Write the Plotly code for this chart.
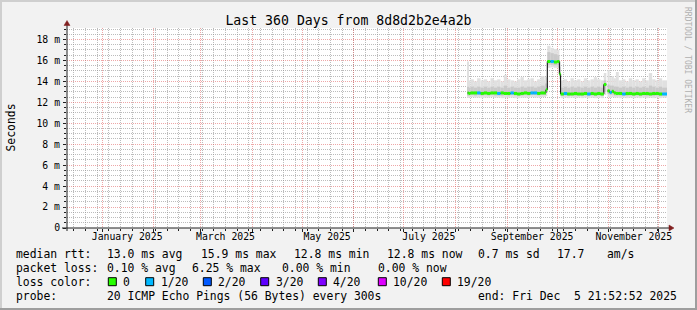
import plotly.graph_objects as go
import pandas as pd

# ---------------- data ----------------
START = "2024-12-10 21:52:52"
END = "2025-12-05 21:52:52"

dates = [
    "2025-08-08 06:00", "2025-08-09", "2025-08-10", "2025-08-12", "2025-08-14", "2025-08-16",
    "2025-08-18", "2025-08-20", "2025-08-22", "2025-08-24", "2025-08-26", "2025-08-28",
    "2025-08-30", "2025-09-01", "2025-09-03", "2025-09-05", "2025-09-07", "2025-09-09",
    "2025-09-11", "2025-09-13", "2025-09-15", "2025-09-17", "2025-09-19", "2025-09-21",
    "2025-09-23 12:00", "2025-09-24 06:00", "2025-09-25 02:00", "2025-09-27", "2025-09-29", "2025-10-01",
    "2025-10-02 08:00", "2025-10-03 02:00", "2025-10-05", "2025-10-07", "2025-10-09", "2025-10-11",
    "2025-10-13", "2025-10-15", "2025-10-17", "2025-10-19", "2025-10-21", "2025-10-23",
    "2025-10-25", "2025-10-27", "2025-10-29", "2025-10-30 12:00", "2025-10-31 06:00", "2025-11-01 12:00",
    "2025-11-02 18:00", "2025-11-04", "2025-11-05 06:00", "2025-11-07", "2025-11-09", "2025-11-11",
    "2025-11-13", "2025-11-15", "2025-11-17", "2025-11-19", "2025-11-21", "2025-11-23",
    "2025-11-25", "2025-11-27", "2025-11-29", "2025-12-01", "2025-12-03", "2025-12-05 21:50",
]

# median rtt (ms)
median = [
    12.9, 12.85, 12.9, 12.9, 12.9, 12.85,
    12.9, 12.85, 12.9, 12.9, 12.85, 12.9,
    12.85, 12.85, 12.9, 12.85, 12.8, 12.85,
    12.9, 12.85, 12.9, 12.9, 12.85, 12.9,
    12.9, 13.2, 15.9, 15.9, 15.85, 15.9,
    14.7, 12.8, 12.85, 12.8, 12.8, 12.85,
    12.8, 12.8, 12.85, 12.8, 12.85, 12.8,
    12.85, 12.8, 13.7, None, 13.1, 12.95,
    13.05, 12.9, 12.85, 12.85, 12.8, 12.85,
    12.85, 12.8, 12.85, 12.8, 12.85, 12.85,
    12.8, 12.85, 12.85, 12.8, 12.8, 12.8,
]

# loss bucket index (0 -> 0 lost, 1 -> 1/20 lost)
loss = [
    0, 0, 0, 0, 1, 0,
    0, 0, 0, 0, 1, 0,
    0, 0, 1, 0, 0, 0,
    0, 0, 1, 1, 0, 0,
    0, 0, 0, 1, 0, 0,
    0, 0, 1, 0, 0, 0,
    0, 0, 0, 1, 0, 0,
    0, 0, 0, 0, 0, 1,
    0, 0, 0, 0, 1, 0,
    0, 0, 0, 0, 0, 0,
    0, 0, 0, 0, 1, 0,
]

# smoke: min, lower quartile, upper quartile, max of the 20 pings (ms)
smoke_min = [
    12.45, 12.45, 12.5, 12.45, 12.45, 12.4,
    12.45, 12.45, 12.5, 12.45, 12.45, 12.4,
    12.45, 12.45, 12.45, 12.4, 12.4, 12.45,
    12.45, 12.45, 12.5, 12.45, 12.45, 12.5,
    12.5, 12.6, 15.3, 15.35, 15.3, 15.3,
    14.2, 12.4, 12.45, 12.4, 12.45, 12.4,
    12.45, 12.4, 12.45, 12.4, 12.45, 12.4,
    12.45, 12.4, 12.7, None, 12.5, 12.45,
    12.5, 12.45, 12.45, 12.4, 12.45, 12.4,
    12.45, 12.4, 12.45, 12.4, 12.45, 12.4,
    12.45, 12.4, 12.45, 12.4, 12.45, 12.45,
]
smoke_q1 = [
    12.65, 12.65, 12.7, 12.65, 12.7, 12.65,
    12.7, 12.65, 12.7, 12.65, 12.65, 12.65,
    12.7, 12.65, 12.7, 12.65, 12.6, 12.65,
    12.7, 12.65, 12.7, 12.7, 12.65, 12.7,
    12.7, 12.9, 15.6, 15.6, 15.55, 15.6,
    14.5, 12.6, 12.65, 12.6, 12.65, 12.6,
    12.65, 12.6, 12.65, 12.6, 12.65, 12.6,
    12.65, 12.6, 13.0, None, 12.8, 12.7,
    12.75, 12.65, 12.65, 12.65, 12.65, 12.6,
    12.65, 12.6, 12.65, 12.6, 12.65, 12.6,
    12.65, 12.6, 12.65, 12.6, 12.65, 12.65,
]
smoke_q3 = [
    13.5, 13.4, 13.5, 13.4, 13.5, 13.4,
    13.5, 13.4, 13.5, 13.4, 13.5, 13.4,
    13.6, 13.4, 13.5, 13.4, 13.4, 13.5,
    13.4, 13.5, 13.5, 13.4, 13.5, 13.6,
    13.5, 13.8, 16.8, 16.7, 16.6, 16.5,
    15.4, 13.4, 13.5, 13.4, 13.5, 13.4,
    13.5, 13.4, 13.5, 13.4, 13.5, 13.4,
    13.5, 13.4, 14.1, None, 13.7, 13.6,
    13.6, 13.5, 13.5, 13.4, 13.5, 13.4,
    13.5, 13.4, 13.5, 13.4, 13.5, 13.4,
    13.6, 13.5, 13.4, 13.5, 13.4, 13.4,
]
smoke_max = [
    15.9, 14.1, 14.2, 14.0, 14.3, 14.1,
    14.2, 14.0, 14.3, 14.1, 14.2, 14.0,
    14.6, 14.2, 14.1, 14.0, 14.2, 14.4,
    14.1, 14.2, 14.3, 14.0, 14.2, 14.5,
    14.1, 14.4, 17.4, 17.2, 17.1, 17.0,
    15.9, 14.1, 14.2, 14.0, 14.3, 14.1,
    14.2, 14.0, 14.3, 14.1, 14.2, 14.4,
    14.2, 14.1, 14.8, None, 15.1, 14.4,
    14.5, 14.3, 14.9, 14.1, 14.2, 14.0,
    14.3, 14.1, 14.2, 14.0, 14.3, 14.1,
    14.8, 14.2, 14.1, 14.3, 14.1, 14.1,
]

y_tick_vals = [0, 2, 4, 6, 8, 10, 12, 14, 16, 18]
y_tick_text = ["0", "2 m", "4 m", "6 m", "8 m", "10 m", "12 m", "14 m", "16 m", "18 m"]
y_minor_step = 0.5
month_starts = ["2025-01-01", "2025-02-01", "2025-03-01", "2025-04-01", "2025-05-01", "2025-06-01",
                "2025-07-01", "2025-08-01", "2025-09-01", "2025-10-01", "2025-11-01", "2025-12-01"]
label_dates = ["2025-01-16", "2025-03-16", "2025-05-16", "2025-07-16", "2025-09-16", "2025-11-16"]
label_text = ["January 2025", "March 2025", "May 2025", "July 2025", "September 2025", "November 2025"]

loss_labels = ["0", "1/20", "2/20", "3/20", "4/20", "10/20", "19/20"]
loss_colors = ["#26ff00", "#00b8ff", "#0059ff", "#5e00ff", "#7e00ff", "#dd00ff", "#ff0000"]

title_text = "Last 360 Days from 8d8d2b2e4a2b"
stats_rtt = ["median rtt:", "13.0 ms avg", "15.9 ms max", "12.8 ms min", "12.8 ms now", "0.7 ms sd", "17.7", "am/s"]
stats_loss = ["packet loss:", "0.10 % avg", "6.25 % max", "0.00 % min", "0.00 % now"]
probe_line = ["probe:", "20 ICMP Echo Pings (56 Bytes) every 300s", "end: Fri Dec  5 21:52:52 2025"]

# ---------------- layout helpers ----------------
FW, FH = 697, 310
L, T, W, H = 67, 28, 600, 200
YMAX = 19.1
MONO = "DejaVu Sans Mono"


def pxx(x):
    return (x - L) / W


def pyy(y):
    return (T + H - y) / H


def nb(s):
    return s.replace(" ", "\u00a0")


t = pd.to_datetime(dates, format="mixed")
dur_ms = [(t[i + 1] - t[i]).total_seconds() * 1000 for i in range(len(t) - 1)]

y_minor_vals = [k * y_minor_step for k in range(int(YMAX / y_minor_step) + 1)
                if (k * y_minor_step) not in y_tick_vals]

fig = go.Figure()


def band(lo, hi, color):
    base, hgt = [], []
    for i in range(len(dates) - 1):
        if lo[i] is None or hi[i] is None:
            base.append(None)
            hgt.append(None)
        else:
            base.append(lo[i])
            hgt.append(hi[i] - lo[i])
    fig.add_trace(go.Bar(x=dates[:-1], y=hgt, base=base, width=dur_ms, offset=0,
                         marker=dict(color=color, line=dict(width=0)),
                         hoverinfo="skip", showlegend=False))


band(smoke_min, smoke_max, "#e0e0e0")
band(smoke_q1, smoke_q3, "#c9c9c9")

# black median step line
bx, by = [], []
for i in range(len(dates) - 1):
    if median[i] is None:
        bx.append(None)
        by.append(None)
        continue
    bx += [dates[i], dates[i + 1]]
    by += [median[i], median[i]]
fig.add_trace(go.Scatter(x=bx, y=by, mode="lines", line=dict(color="#000000", width=1),
                         connectgaps=False, hoverinfo="skip", showlegend=False))

# loss-coloured median segments
for k, col in enumerate(loss_colors):
    sx, sy = [], []
    for i in range(len(dates) - 1):
        if median[i] is None or loss[i] != k:
            continue
        sx += [dates[i], dates[i + 1], None]
        sy += [median[i], median[i], None]
    if sx:
        fig.add_trace(go.Scatter(x=sx, y=sy, mode="lines", line=dict(color=col, width=3),
                                 connectgaps=False, hoverinfo="skip", showlegend=False))

# dummy trace for label axis
fig.add_trace(go.Scatter(x=[START, END], y=[None, None], xaxis="x2", mode="lines",
                         hoverinfo="skip", showlegend=False))

MGRID = "rgba(222,79,79,0.5)"
GRID = "rgba(143,143,143,0.6)"
AXC = "#1f1f1f"

fig.update_layout(
    width=FW, height=FH,
    margin=dict(l=L, r=FW - L - W, t=T, b=FH - T - H, pad=0),
    paper_bgcolor="#f2f2f2", plot_bgcolor="#ffffff",
    barmode="overlay", showlegend=False,
    font=dict(family=MONO, color="#000000"),
    title=dict(text=title_text, x=0.5, xanchor="center", y=1 - 20 / FH, yanchor="middle",
               font=dict(family=MONO, size=13.2, color="#000000")),
    xaxis=dict(type="date", range=[START, END], tickmode="array", tickvals=month_starts,
               ticktext=[""] * len(month_starts), showgrid=True, gridcolor=MGRID,
               griddash="1px,1px", gridwidth=1, ticks="outside", ticklen=3, tickcolor=AXC,
               zeroline=False, showline=False,
               minor=dict(dtick=7 * 86400000, tick0="2024-12-15", showgrid=True,
                          gridcolor=GRID, griddash="1px,1px", ticks="outside", ticklen=2,
                          tickcolor=AXC)),
    xaxis2=dict(type="date", range=[START, END], overlaying="x", anchor="y", side="bottom",
                tickmode="array", tickvals=label_dates, ticktext=label_text, showgrid=False,
                ticks="", zeroline=False, showline=False, ticklabelstandoff=1,
                tickfont=dict(family=MONO, size=9.8, color="#000000")),
    yaxis=dict(range=[0, YMAX], tickmode="array", tickvals=y_tick_vals, ticktext=y_tick_text,
               showgrid=True, gridcolor=MGRID, griddash="1px,1px", gridwidth=1,
               ticks="outside", ticklen=3, tickcolor=AXC, zeroline=False, showline=False,
               ticklabelstandoff=1,
               tickfont=dict(family=MONO, size=9.8, color="#000000"),
               minor=dict(tickmode="array", tickvals=y_minor_vals, showgrid=True,
                          gridcolor=GRID, griddash="1px,1px", gridwidth=1,
                          ticks="outside", ticklen=2, tickcolor=AXC)),
)

shapes = []
shapes.append(dict(type="line", xref="paper", yref="paper", x0=pxx(62), x1=pxx(670),
                   y0=pyy(228), y1=pyy(228), line=dict(color=AXC, width=1)))
shapes.append(dict(type="line", xref="paper", yref="paper", x0=pxx(67), x1=pxx(67),
                   y0=pyy(231), y1=pyy(23), line=dict(color=AXC, width=1)))
ARROW = "#801f1f"
shapes.append(dict(type="path", xref="paper", yref="paper",
                   path=f"M {pxx(64)} {pyy(25.5)} L {pxx(70)} {pyy(25.5)} L {pxx(67)} {pyy(20.5)} Z",
                   fillcolor=ARROW, line=dict(color=ARROW, width=0.5)))
shapes.append(dict(type="path", xref="paper", yref="paper",
                   path=f"M {pxx(669)} {pyy(225)} L {pxx(669)} {pyy(231)} L {pxx(674)} {pyy(228)} Z",
                   fillcolor=ARROW, line=dict(color=ARROW, width=0.5)))
shapes.append(dict(type="rect", xref="paper", yref="paper", x0=pxx(0), x1=pxx(FW),
                   y0=pyy(0), y1=pyy(2), fillcolor="#cfcfcf", line=dict(width=0)))
shapes.append(dict(type="rect", xref="paper", yref="paper", x0=pxx(0), x1=pxx(2),
                   y0=pyy(0), y1=pyy(FH), fillcolor="#cfcfcf", line=dict(width=0)))
shapes.append(dict(type="rect", xref="paper", yref="paper", x0=pxx(0), x1=pxx(FW),
                   y0=pyy(FH - 2), y1=pyy(FH), fillcolor="#9e9e9e", line=dict(width=0)))
shapes.append(dict(type="rect", xref="paper", yref="paper", x0=pxx(FW - 2), x1=pxx(FW),
                   y0=pyy(0), y1=pyy(FH), fillcolor="#9e9e9e", line=dict(width=0)))

swatch_x = [108.3, 145.7, 203.3, 260.7, 318.3, 378.3, 442.3]
for sx_, col in zip(swatch_x, loss_colors):
    shapes.append(dict(type="rect", xref="paper", yref="paper", x0=pxx(sx_), x1=pxx(sx_ + 8),
                       y0=pyy(277.7), y1=pyy(285.7), fillcolor=col,
                       line=dict(color="#000000", width=1)))
fig.update_layout(shapes=shapes)

ann = []


def text(s, x, y, size=11.4, color="#000000", angle=0, xanchor="left"):
    ann.append(dict(text=nb(s), x=pxx(x), y=pyy(y), xref="paper", yref="paper",
                    xanchor=xanchor, yanchor="middle", showarrow=False, textangle=angle,
                    borderpad=0, borderwidth=0,
                    font=dict(family=MONO, size=size, color=color)))


for s, x in zip(stats_rtt, [16, 107.3, 201.3, 293.8, 386.8, 478.3, 557, 607.3]):
    text(s, x, 254.3)
for s, x in zip(stats_loss, [16, 107.3, 191.5, 281.5, 378]):
    text(s, x, 268.3)
text("loss color:", 16, 282.3)
for sx_, lab in zip(swatch_x, loss_labels):
    text(lab, sx_ + 15, 282.3)
for s, x in zip(probe_line, [16, 107.3, 478.3]):
    text(s, x, 295.7)

text("Seconds", 10.5, 128, size=11.4, angle=-90, xanchor="center")
text("RRDTOOL / TOBI OETIKER", 688, 60, size=8, color="#b0b0b0", angle=90, xanchor="center")

fig.update_layout(annotations=ann)

fig.write_html("out.html")
